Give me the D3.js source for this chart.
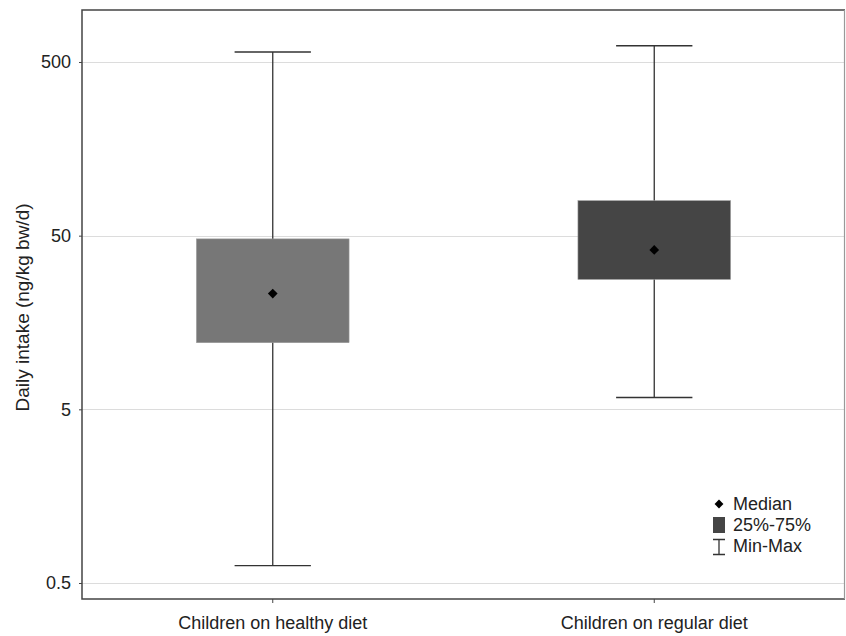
<!DOCTYPE html>
<html>
<head>
<meta charset="utf-8">
<script src="https://cdn.jsdelivr.net/npm/d3@7"></script>
<style>
  body { margin: 0; background: #fff; }
  svg { display: block; font-family: "Liberation Sans", Arial, Helvetica, sans-serif; }
</style>
</head>
<body>
<svg id="chart" width="846" height="636"></svg>
<script>
// ---- data ----
const categories = ["Children on healthy diet", "Children on regular diet"];
const minValues = [0.63, 5.85];
const q1Values = [12.1, 28.0];
const medianValues = [23.2, 41.4];
const q3Values = [47.9, 79.5];
const maxValues = [571, 620];
const boxColors = ["#777777", "#454545"];
const yTicks = [0.5, 5, 50, 500];
const yLabel = "Daily intake (ng/kg bw/d)";
const legendLabels = ["Median", "25%-75%", "Min-Max"];

const svg = d3.select("#chart");
const margin = { left: 82, top: 10, right: 1, bottom: 37 };
const W = 846, H = 636;
const x0 = margin.left, x1 = W - margin.right, y0 = margin.top, y1 = H - margin.bottom;

const y = d3.scaleLog().domain([0.5 * Math.pow(10, -16 / 173.7), 500 * Math.pow(10, 52 / 173.7)]).range([y1, y0]);
const x = d3.scaleBand().domain(categories).range([x0, x1]).paddingInner(0.6).paddingOuter(0.3);

// gridlines
svg.append("g").selectAll("line").data(yTicks).join("line")
  .attr("x1", x0).attr("x2", x1)
  .attr("y1", d => Math.round(y(d)) + 0.5).attr("y2", d => Math.round(y(d)) + 0.5)
  .attr("stroke", "#dcdcdc").attr("stroke-width", 1);

const data = categories.map((c, i) => ({
  c, min: minValues[i], q1: q1Values[i], med: medianValues[i], q3: q3Values[i], max: maxValues[i], color: boxColors[i]
}));

const g = svg.append("g").selectAll("g").data(data).join("g");
const cx = d => x(d.c) + x.bandwidth() / 2;
const capW = x.bandwidth() * 0.5;

// whisker line
g.append("line")
  .attr("x1", cx).attr("x2", cx)
  .attr("y1", d => y(d.max)).attr("y2", d => y(d.min))
  .attr("stroke", "#333").attr("stroke-width", 1.3);
// caps
g.append("line")
  .attr("x1", d => cx(d) - capW / 2).attr("x2", d => cx(d) + capW / 2)
  .attr("y1", d => y(d.max)).attr("y2", d => y(d.max))
  .attr("stroke", "#333").attr("stroke-width", 1.3);
g.append("line")
  .attr("x1", d => cx(d) - capW / 2).attr("x2", d => cx(d) + capW / 2)
  .attr("y1", d => y(d.min)).attr("y2", d => y(d.min))
  .attr("stroke", "#333").attr("stroke-width", 1.3);
// box
g.append("rect")
  .attr("x", d => x(d.c)).attr("width", x.bandwidth())
  .attr("y", d => y(d.q3)).attr("height", d => y(d.q1) - y(d.q3))
  .attr("fill", d => d.color).attr("stroke", "#999").attr("stroke-width", 0.6);
// median diamond
const diamond = d3.symbol().type(d3.symbolDiamond2).size(60);
g.append("path")
  .attr("d", diamond)
  .attr("transform", d => `translate(${cx(d)},${y(d.med)})`)
  .attr("fill", "#000");

// frame
svg.append("path")
  .attr("d", `M${x1},${y0}H${x0}V${y1}H${x1}`)
  .attr("fill", "none").attr("stroke", "#444").attr("stroke-width", 1.5);
svg.append("line")
  .attr("x1", x1 - 0.5).attr("x2", x1 - 0.5).attr("y1", y0).attr("y2", y1)
  .attr("stroke", "#999").attr("stroke-width", 1.2);

// y axis
const yAxis = d3.axisLeft(y).tickValues(yTicks).tickFormat(d3.format("")).tickSize(3).tickPadding(8);
const ya = svg.append("g").attr("transform", `translate(${x0},0)`).call(yAxis);
ya.select(".domain").remove();
ya.selectAll(".tick line").attr("stroke", "#444");
ya.selectAll(".tick text").attr("font-size", 18).attr("fill", "#222").style("font-family", "Liberation Sans, Arial, sans-serif");

// x axis
const xAxis = d3.axisBottom(x).tickSize(4).tickPadding(13);
const xa = svg.append("g").attr("transform", `translate(0,${y1})`).call(xAxis);
xa.select(".domain").remove();
xa.selectAll(".tick line").attr("stroke", "#444");
xa.selectAll(".tick text").attr("font-size", 18).attr("fill", "#222").style("font-family", "Liberation Sans, Arial, sans-serif");

// y label
svg.append("text")
  .attr("transform", `translate(29,${(y0 + y1) / 2 + 3}) rotate(-90)`)
  .attr("text-anchor", "middle")
  .attr("font-size", 19).attr("fill", "#222")
  .text(yLabel);

// legend
const lg = svg.append("g").attr("transform", "translate(719,0)");
lg.append("path").attr("d", d3.symbol().type(d3.symbolDiamond2).size(50))
  .attr("transform", "translate(0,504)").attr("fill", "#000");
lg.append("rect").attr("x", -6).attr("y", 517).attr("width", 12).attr("height", 16).attr("fill", "#454545");
lg.append("path").attr("d", "M-6,539.5H6M0,539.5V554.5M-6,554.5H6").attr("stroke", "#333").attr("stroke-width", 1.3).attr("fill", "none");
lg.selectAll("text.leg").data(legendLabels).join("text")
  .attr("class", "leg")
  .attr("x", 14).attr("y", (d, i) => 510 + i * 21)
  .attr("font-size", 18).attr("fill", "#222")
  .text(d => d);
</script>
</body>
</html>
